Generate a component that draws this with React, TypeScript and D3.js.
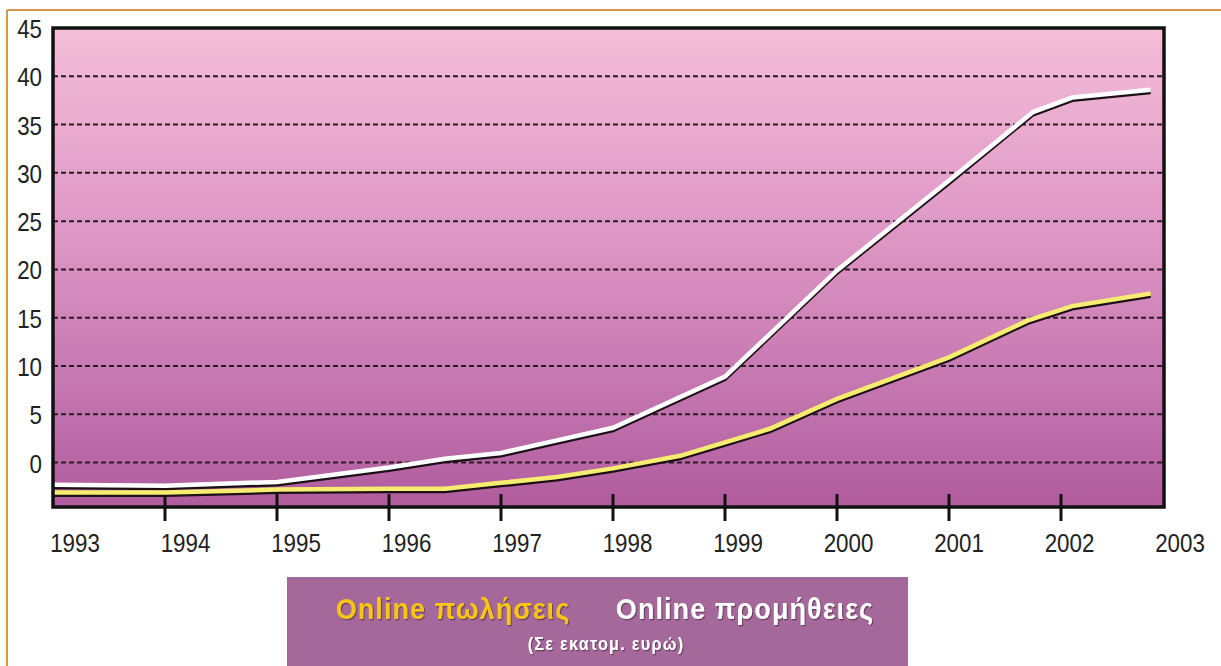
import * as d3 from "d3";

// years where the curves bend
const supplyYears = [1993, 1994, 1995, 1996, 1996.5, 1997, 1997.5, 1998, 1999, 2000, 2001, 2001.75, 2002.1, 2002.8];
const supplyValues = [-2.3, -2.4, -2.0, -0.5, 0.4, 1.0, 2.3, 3.6, 8.9, 19.9, 29.2, 36.3, 37.8, 38.6];

const salesYears = [1993, 1994, 1995, 1996, 1996.5, 1997, 1997.5, 1998, 1998.6, 1999, 1999.4, 2000, 2001, 2001.7, 2002.1, 2002.8];
const salesValues = [-3.1, -3.1, -2.8, -2.7, -2.7, -2.1, -1.5, -0.6, 0.7, 2.1, 3.5, 6.6, 10.9, 14.7, 16.2, 17.5];

const yTicks = [0, 5, 10, 15, 20, 25, 30, 35, 40, 45];
const xTicks = [1993, 1994, 1995, 1996, 1997, 1998, 1999, 2000, 2001, 2002, 2003];

const legendSales = "Online πωλήσεις";
const legendSupply = "Online προμήθειες";
const legendUnit = "(Σε εκατομ. ευρώ)";

const W = 1221;
const H = 666;
const plot = { left: 53, right: 1164, top: 28, bottom: 507 };
const font = "'Liberation Sans', Arial, sans-serif";

export default function App() {
  const x = d3.scaleLinear().domain([1993, 2003]).range([plot.left, 1173]);
  const y = d3.scaleLinear().domain([-4.6, 45]).range([plot.bottom, plot.top]);
  // labels sit slightly right of their ticks in the original
  const xLabel = d3.scaleLinear().domain([1993, 2003]).range([75, 1180]);

  const line = d3
    .line<[number, number]>()
    .x((d) => x(d[0]))
    .y((d) => y(d[1]));

  const supply = line(supplyYears.map((yr, i) => [yr, supplyValues[i]]))!;
  const sales = line(salesYears.map((yr, i) => [yr, salesValues[i]]))!;

  return (
    <svg
      width={W}
      height={H}
      style={{ position: "absolute", left: 0, top: 0, background: "#fff" }}
    >
      <defs>
        <linearGradient id="bg" x1="0" y1="0" x2="0" y2="1">
          <stop offset="0%" stopColor="#f4bdd7" />
          <stop offset="45%" stopColor="#dd95c4" />
          <stop offset="100%" stopColor="#b05c9e" />
        </linearGradient>
        <filter id="ts" x="-5%" y="-20%" width="110%" height="140%">
          <feDropShadow dx="1.2" dy="1.2" stdDeviation="0.5" floodColor="#3a1a30" floodOpacity="0.6" />
        </filter>
      </defs>

      {/* orange frame */}
      <line x1={7} y1={10} x2={W} y2={10} stroke="#d9964a" strokeWidth={2} />
      <line x1={7} y1={10} x2={7} y2={H} stroke="#d9964a" strokeWidth={2} />

      <rect
        x={plot.left}
        y={plot.top}
        width={plot.right - plot.left}
        height={plot.bottom - plot.top}
        fill="url(#bg)"
      />

      {/* grid */}
      {yTicks
        .filter((t) => t < 45)
        .map((t) => (
          <line
            key={t}
            x1={plot.left}
            x2={plot.right}
            y1={y(t)}
            y2={y(t)}
            stroke="#2a1a24"
            strokeWidth={2}
            strokeDasharray="5,3"
          />
        ))}

      {/* x tick marks */}
      {xTicks
        .filter((t) => t > 1993 && t < 2003)
        .map((t) => (
          <line key={t} x1={x(t)} x2={x(t)} y1={494} y2={521} stroke="#111" strokeWidth={3} />
        ))}

      {/* curves with dark shadow */}
      <path d={supply} fill="none" stroke="#1a1016" strokeWidth={4} transform="translate(0,2.5)" />
      <path d={supply} fill="none" stroke="#ffffff" strokeWidth={4.5} />
      <path d={sales} fill="none" stroke="#1a1016" strokeWidth={4} transform="translate(0,2.5)" />
      <path d={sales} fill="none" stroke="#f5ec70" strokeWidth={4.5} />

      <rect
        x={plot.left}
        y={plot.top}
        width={plot.right - plot.left}
        height={plot.bottom - plot.top}
        fill="none"
        stroke="#111"
        strokeWidth={3.5}
      />

      {/* y labels */}
      {yTicks.map((t) => (
        <text
          key={t}
          transform={`translate(42,${y(t) + 10}) scale(0.86,1)`}
          textAnchor="end"
          fontFamily={font}
          fontSize={26}
          fill="#222"
        >
          {t}
        </text>
      ))}

      {/* x labels */}
      {xTicks.map((t) => (
        <text
          key={t}
          transform={`translate(${xLabel(t)},552) scale(0.86,1)`}
          textAnchor="middle"
          fontFamily={font}
          fontSize={26}
          fill="#222"
        >
          {t}
        </text>
      ))}

      {/* legend */}
      <rect x={287} y={577} width={621} height={H - 577} fill="#a5689a" />
      <text
        transform="translate(453,619) scale(0.9,1)"
        textAnchor="middle"
        fontFamily={font}
        fontWeight="bold"
        fontSize={30}
        letterSpacing={1.2}
        fill="#f7c512"
        filter="url(#ts)"
      >
        {legendSales}
      </text>
      <text
        transform="translate(745,619) scale(0.9,1)"
        textAnchor="middle"
        fontFamily={font}
        fontWeight="bold"
        fontSize={30}
        letterSpacing={1.2}
        fill="#ffffff"
        filter="url(#ts)"
      >
        {legendSupply}
      </text>
      <text
        transform="translate(606,650) scale(0.9,1)"
        textAnchor="middle"
        fontFamily={font}
        fontWeight="bold"
        fontSize={18}
        letterSpacing={1.4}
        fill="#ffffff"
        filter="url(#ts)"
      >
        {legendUnit}
      </text>
    </svg>
  );
}
